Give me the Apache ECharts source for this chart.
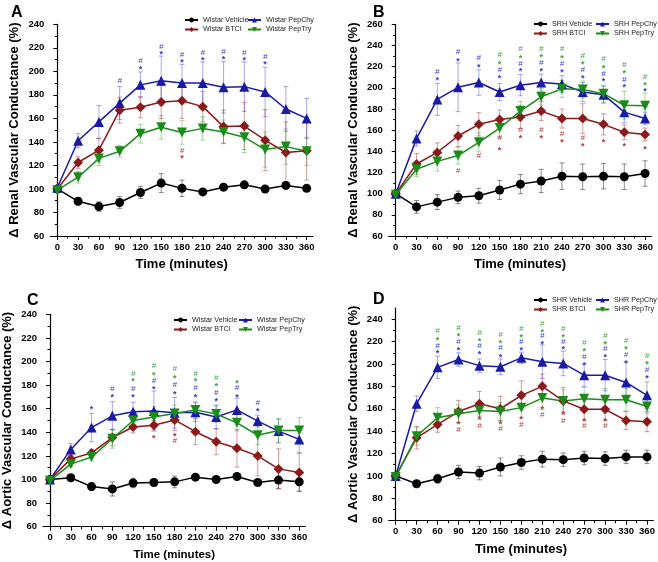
<!DOCTYPE html>
<html>
<head>
<meta charset="utf-8">
<script src="https://cdn.jsdelivr.net/npm/echarts@6/dist/echarts.min.js"></script>
<style>
  html, body { margin: 0; padding: 0; background: #fff; }
  #chart { width: 658px; height: 562px; }
</style>
</head>
<body>
<div id="chart"></div>
<script>
// time points (minutes)
const times = [0, 30, 60, 90, 120, 150, 180, 210, 240, 270, 300, 330, 360];
const minorTimes = [15, 45, 75, 105, 135, 165, 195, 225, 255, 285, 315, 345];

// A - renal, Wistar
const vehA = [100, 89.5, 85, 88.5, 97, 105, 100.5, 97.5, 101.5, 103.5, 100, 103, 100.5];
const vehAErr = [2, 3, 4, 5, 5, 8, 7, 2, 3, 2, 2, 3, 2];
const btciA = [100, 122.5, 133, 167, 169.5, 174, 175, 170, 153, 153.5, 141.5, 131, 132.5];
const btciAErr = [2, 5, 10, 11, 9, 14, 15, 13, 14, 20, 26, 26, 25];
const chyA = [101, 141, 157, 173, 188.5, 192, 190, 190, 186.5, 187, 182.5, 168, 160];
const chyAErr = [2, 6, 14, 14, 11, 21, 16, 18, 22, 21, 21, 19, 17];
const tryA = [99, 110, 126, 132, 147, 152.5, 148, 151.5, 148.5, 144, 133.5, 136, 132];
const tryAErr = [2, 5, 6, 5, 8, 10, 10, 10, 10, 13, 15, 15, 12];

// B - renal, SHR
const vehB = [100, 87.5, 92, 96.5, 98, 103.5, 109, 112, 116.5, 116, 116.5, 116, 119];
const vehBErr = [2, 6, 7, 6, 7, 9, 9, 11, 12.5, 12, 12, 12, 12];
const btciB = [100, 128, 139, 154.5, 165.5, 170, 172.5, 178, 171, 171, 165.5, 158, 156];
const btciBErr = [2, 10, 9, 10, 11, 9, 11, 9, 9, 14, 10, 7, 6];
const chyB = [100, 152, 189, 200.5, 205, 196, 202.5, 205, 203.5, 196, 193.5, 177, 171];
const chyBErr = [2, 7, 15, 23, 12, 8, 10, 8, 8, 9, 8, 10, 6];
const tryB = [99, 123, 130.5, 136, 148.5, 162, 178, 191.5, 199, 198.5, 194.5, 183.5, 183];
const tryBErr = [2, 7, 9, 8, 9, 9, 9, 8, 8, 8, 8, 13, 12];

// C - aortic, Wistar
const vehC = [100, 101.5, 94, 92, 97, 97.5, 98, 102, 100, 102.5, 97.5, 99.5, 98];
const vehCErr = [2, 2, 3, 6, 4, 3, 5, 2, 2, 2, 2, 7, 8];
const btciC = [100, 117.5, 122.5, 135.5, 144.5, 146, 150.5, 140.5, 132, 126.5, 120, 109, 106];
const btciCErr = [2, 3, 3, 7, 5, 4, 9, 11, 11, 16, 17, 17, 16];
const chyC = [100, 125.5, 144, 154, 157.5, 158, 156.5, 157, 153, 159, 149.5, 141, 134];
const chyCErr = [2, 5, 12, 12, 8, 17, 13, 8, 10, 10, 5, 10, 11];
const tryC = [99, 113, 119, 134.5, 150, 153, 156, 159, 155.5, 148, 137.5, 141.5, 141.5];
const tryCErr = [2, 2, 3, 8, 8, 9, 7, 7, 7, 7, 8, 10, 11];

// D - aortic, SHR
const vehD = [100, 93, 97.5, 103.5, 102.5, 108, 112, 115, 114.5, 116, 115.5, 117, 117];
const vehDErr = [2, 2, 4, 6, 6, 8, 6, 7, 6, 6, 6, 6, 6];
const btciD = [100, 134, 146, 157.5, 164.5, 160, 172, 180, 167, 159.5, 159.5, 149.5, 148.5];
const btciDErr = [2, 10, 7, 10, 11, 11, 13, 11, 12, 10, 10, 8, 9];
const chyD = [100, 164.5, 197, 204, 198.5, 197.5, 205.5, 202, 200.5, 190, 190, 183.5, 172];
const chyDErr = [2, 7, 10, 6, 6, 7, 5, 15, 11, 10, 14, 18, 12];
const tryD = [99, 135.5, 152, 155.5, 158.5, 157.5, 161, 169.5, 167, 169, 168, 168, 162];
const tryDErr = [2, 8, 9, 8, 8, 8, 9, 10, 10, 10, 10, 10, 6];

// significance marks: [time, level, mark]
const marksABlue = [[90, 192, '#'], [120, 209, '#'], [120, 203, '*'], [150, 221, '#'], [150, 216, '*'],
  [180, 214.5, '#'], [180, 209, '*'], [210, 216, '#'], [210, 210.5, '*'], [240, 217, '#'], [240, 212, '*'],
  [270, 216, '#'], [270, 211, '*'], [300, 212.5, '#'], [300, 207.5, '*']];
const marksARed = [[180, 132.5, '#'], [180, 127.5, '*']];
const marksAGreen = [];

const marksBBlue = [[60, 215, '#'], [60, 209, '*'], [90, 234, '#'], [90, 227, '*'], [120, 228, '#'], [120, 221.5, '*'],
  [150, 217, '#'], [150, 210.5, '*'], [180, 223, '#'], [180, 217, '*'], [210, 223.5, '#'], [210, 217, '*'],
  [240, 223, '#'], [240, 216.5, '*'], [270, 217, '#'], [270, 210.5, '*'], [300, 213.5, '#'], [300, 207.5, '*'],
  [330, 208, '#'], [330, 202.5, '*'], [360, 198.5, '*']];
const marksBGreen = [[150, 231, '#'], [150, 224, '*'], [180, 236.5, '#'], [180, 230, '*'], [210, 237, '#'], [210, 230.5, '*'],
  [240, 236.5, '#'], [240, 230, '*'], [270, 230.5, '#'], [270, 223.5, '*'], [300, 227, '#'], [300, 220.5, '*'],
  [330, 222, '#'], [330, 215.5, '*'], [360, 210.5, '#'], [360, 204.5, '*']];
const marksBRed = [[90, 121.5, '#'], [120, 135.5, '#'], [150, 153, '#'], [150, 143, '*'], [180, 160.5, '#'], [180, 154, '*'],
  [210, 160, '#'], [210, 154, '*'], [240, 157, '#'], [240, 150, '*'], [270, 153, '#'], [270, 146, '*'],
  [300, 150.5, '*'], [330, 146, '*'], [360, 144, '*']];

const marksCBlue = [[60, 161, '*'], [90, 176.5, '#'], [90, 171, '*'], [120, 176.5, '#'], [120, 171, '*'],
  [150, 183.5, '#'], [150, 178, '*'], [180, 180, '#'], [180, 174, '*'], [210, 177.5, '#'], [210, 171, '*'],
  [240, 173.5, '#'], [240, 167.5, '*'], [270, 178, '#'], [270, 171.5, '*'], [300, 165, '#'], [300, 159, '*']];
const marksCGreen = [[120, 190, '#'], [120, 184.5, '*'], [150, 196, '#'], [150, 190, '*'], [180, 193.5, '#'], [180, 187, '*'],
  [210, 190, '#'], [210, 184.5, '*'], [240, 186.5, '#'], [240, 180.5, '*'], [270, 183, '*']];
const marksCRed = [[150, 136.5, '*'], [180, 138.5, '*'], [180, 133, '#']];

const marksDBlue = [[60, 216.5, '#'], [60, 211, '*'], [90, 219.5, '#'], [90, 213.5, '*'], [120, 216, '#'], [120, 210, '*'],
  [150, 214.5, '#'], [150, 207.5, '*'], [180, 219.5, '#'], [180, 213.5, '*'], [210, 225, '#'], [210, 219, '*'],
  [240, 220, '#'], [240, 214.5, '*'], [270, 206.5, '#'], [270, 200.5, '*'], [300, 213.5, '#'], [300, 207.5, '*'],
  [330, 208.5, '#'], [330, 202, '*'], [360, 195, '#'], [360, 188.5, '*']];
const marksDGreen = [[60, 229.5, '#'], [60, 222.5, '*'], [90, 232.5, '#'], [90, 226.5, '*'], [120, 228, '#'], [120, 222, '*'],
  [150, 226.5, '#'], [150, 220.5, '*'], [180, 231.5, '#'], [180, 225.5, '*'], [210, 235.5, '#'], [210, 230, '*'],
  [240, 231.5, '#'], [240, 225.5, '*'], [270, 218.5, '#'], [270, 212.5, '*'], [300, 225.5, '#'], [300, 219.5, '*'],
  [330, 221, '#'], [330, 215, '*'], [360, 207.5, '#'], [360, 201.5, '*']];
const marksDRed = [[90, 147.5, '*'], [90, 141.5, '#'], [120, 152.5, '*'], [120, 145, '#'], [150, 148, '*'], [150, 142, '#'],
  [180, 152.5, '*'], [180, 146, '#'], [210, 161.5, '*'], [210, 155, '#'], [240, 156.5, '*'], [240, 149.5, '#'],
  [270, 150.5, '*'], [270, 144.5, '#'], [300, 150.5, '*'], [300, 144.5, '#']];

const FONT = '"Liberation Sans", Arial, sans-serif';
const groups = [
  { key: 'veh', label: 'Vehicle', color: '#000000', err: 'rgba(0,0,0,0.45)', symbol: 'circle', size: 9, rotate: 0 },
  { key: 'btci', label: 'BTCI', color: '#8c1a1a', err: 'rgba(160,40,40,0.45)', symbol: 'diamond', size: 10, rotate: 0 },
  { key: 'chy', label: 'PepChy', color: '#1a1aa8', err: 'rgba(40,40,200,0.4)', symbol: 'triangle', size: 10, rotate: 0 },
  { key: 'try', label: 'PepTry', color: '#1a8c1a', err: 'rgba(40,150,40,0.4)', symbol: 'triangle', size: 10, rotate: 180 }
];
const markColors = { blue: '#3a3ac8', red: '#a83a3a', green: '#3aa83a' };

const panels = [
  {
    letter: 'A', strain: 'Wistar', yName: 'Δ Renal Vascular Conductance (%)', yMax: 240,
    grid: { left: 50.4, top: 24.3, width: 262.5, height: 211.7 }, letterPos: [6, 0], legendPos: [184, 247, 16.5],
    data: { veh: [vehA, vehAErr], btci: [btciA, btciAErr], chy: [chyA, chyAErr], try: [tryA, tryAErr] },
    marks: { blue: marksABlue, red: marksARed, green: marksAGreen }, nameSize: 13
  },
  {
    letter: 'B', strain: 'SRH', yName: 'Δ Renal Vascular Conductance (%)', yMax: 260,
    grid: { left: 388.8, top: 24.3, width: 262.5, height: 211.7 }, letterPos: [368, 0], legendPos: [533, 595, 20.5],
    data: { veh: [vehB, vehBErr], btci: [btciB, btciBErr], chy: [chyB, chyBErr], try: [tryB, tryBErr] },
    marks: { blue: marksBBlue, red: marksBRed, green: marksBGreen }, nameSize: 13
  },
  {
    letter: 'C', strain: 'Wistar', yName: 'Δ Aortic Vascular Conductance (%)', yMax: 240,
    grid: { left: 43.1, top: 314.3, width: 262.4, height: 212.4 }, letterPos: [22, 288], legendPos: [173, 238, 316.5],
    data: { veh: [vehC, vehCErr], btci: [btciC, btciCErr], chy: [chyC, chyCErr], try: [tryC, tryCErr] },
    marks: { blue: marksCBlue, red: marksCRed, green: marksCGreen }, nameSize: 11.5
  },
  {
    letter: 'D', strain: 'SHR', yName: 'Δ Aortic Vascular Conductance (%)', yMax: 250,
    grid: { left: 388.7, top: 308, width: 264.6, height: 212.7 }, letterPos: [368, 287], legendPos: [533, 595, 296.5],
    data: { veh: [vehD, vehDErr], btci: [btciD, btciDErr], chy: [chyD, chyDErr], try: [tryD, tryDErr] },
    marks: { blue: marksDBlue, red: marksDRed, green: marksDGreen }, nameSize: 13
  }
];

const yTicks = [60, 80, 100, 120, 140, 160, 180, 200, 220, 240, 260];
const yMinorTicks = [70, 90, 110, 130, 150, 170, 190, 210, 230, 250];

function errorBars(i, g, vals, errs) {
  return {
    type: 'custom', xAxisIndex: i, yAxisIndex: i, z: 1, silent: true,
    itemStyle: { color: g.err },
    data: times.map((t, k) => [t, vals[k], errs[k]]),
    renderItem: (params, api) => {
      const t = api.value(0), v = api.value(1), e = api.value(2);
      const hi = api.coord([t, v + e]), lo = api.coord([t, v - e]);
      const c = 2.5, st = { stroke: api.visual('color'), lineWidth: 1 };
      return {
        type: 'group', children: [
          { type: 'line', shape: { x1: hi[0], y1: hi[1], x2: lo[0], y2: lo[1] }, style: st },
          { type: 'line', shape: { x1: hi[0] - c, y1: hi[1], x2: hi[0] + c, y2: hi[1] }, style: st },
          { type: 'line', shape: { x1: lo[0] - c, y1: lo[1], x2: lo[0] + c, y2: lo[1] }, style: st }
        ]
      };
    }
  };
}

function markSeries(i, list, color) {
  return {
    type: 'custom', xAxisIndex: i, yAxisIndex: i, z: 5, silent: true,
    data: list.map(m => [m[0], m[1]]),
    renderItem: (params, api) => {
      const p = api.coord([api.value(0), api.value(1)]);
      const mk = list[params.dataIndex][2];
      return {
        type: 'text', x: p[0], y: mk === '*' ? p[1] + 2 : p[1],
        style: {
          text: mk, fill: color, align: 'center', verticalAlign: 'middle',
          font: (mk === '#' ? 'italic 8px ' : 'bold 9px ') + FONT
        }
      };
    }
  };
}

const option = {
  animation: false,
  backgroundColor: '#fff',
  title: [], grid: [], xAxis: [], yAxis: [], legend: [], series: []
};

panels.forEach((p, i) => {
  option.title.push({
    text: p.letter, left: p.letterPos[0], top: p.letterPos[1],
    textStyle: { fontFamily: FONT, fontWeight: 'bold', fontSize: 16, color: '#000' }
  });
  option.grid.push(p.grid);
  option.xAxis.push({
    type: 'value', gridIndex: i, min: -10, max: 369, position: 'bottom',
    name: 'Time (minutes)', nameLocation: 'middle', nameGap: 22,
    nameTextStyle: { fontFamily: FONT, fontWeight: 'bold', fontSize: p.nameSize, color: '#000' },
    axisLine: { lineStyle: { color: '#000', width: 1.2 } },
    axisTick: { customValues: times, length: 4, lineStyle: { color: '#000' } },
    axisLabel: { customValues: times, fontFamily: FONT, fontWeight: 'bold', fontSize: 9.5, color: '#000', margin: 6 },
    splitLine: { show: false }
  });
  const yt = yTicks.filter(v => v <= p.yMax);
  option.yAxis.push({
    type: 'value', gridIndex: i, min: 60, max: p.yMax, position: 'left',
    name: p.yName, nameLocation: 'middle', nameGap: 29, nameRotate: 90,
    nameTextStyle: { fontFamily: FONT, fontWeight: 'bold', fontSize: 13, color: '#000' },
    axisLine: { show: true, lineStyle: { color: '#000', width: 1.2 } },
    axisTick: { customValues: yt, length: 4, lineStyle: { color: '#000' } },
    axisLabel: { customValues: yt, fontFamily: FONT, fontWeight: 'bold', fontSize: 9.5, color: '#000', margin: 6 },
    splitLine: { show: false }
  });
  const cols = [[groups[0], groups[1]], [groups[2], groups[3]]];
  cols.forEach((col, c) => {
    option.legend.push({
      orient: 'vertical', left: p.legendPos[c], top: p.legendPos[2], padding: 0,
      itemWidth: 13, itemHeight: 6, itemGap: 2.5,
      textStyle: { fontFamily: FONT, fontSize: 7.2, color: '#222' },
      data: col.map(g => p.strain + ' ' + g.label)
    });
  });
  groups.forEach(g => {
    const [vals, errs] = p.data[g.key];
    option.series.push(errorBars(i, g, vals, errs));
  });
  groups.forEach(g => {
    const [vals] = p.data[g.key];
    option.series.push({
      type: 'line', name: p.strain + ' ' + g.label, xAxisIndex: i, yAxisIndex: i, z: 3,
      data: times.map((t, k) => [t, vals[k]]),
      symbol: g.symbol, symbolSize: g.size, symbolRotate: g.rotate, showAllSymbol: true,
      lineStyle: { color: g.color, width: 1.5 },
      itemStyle: { color: g.color, borderWidth: 0 }
    });
  });
  Object.keys(p.marks).forEach(k => {
    if (p.marks[k].length) option.series.push(markSeries(i, p.marks[k], markColors[k]));
  });
});

// extra axes carrying the minor ticks only
panels.forEach((p, i) => {
  option.xAxis.push({
    type: 'value', gridIndex: i, min: -10, max: 369, position: 'bottom',
    axisLine: { show: false }, axisLabel: { show: false }, splitLine: { show: false },
    axisTick: { customValues: minorTimes, length: 2.5, lineStyle: { color: '#000' } }
  });
  option.yAxis.push({
    type: 'value', gridIndex: i, min: 60, max: p.yMax, position: 'left',
    axisLine: { show: false }, axisLabel: { show: false }, splitLine: { show: false },
    axisTick: { customValues: yMinorTicks.filter(v => v < p.yMax), length: 2.5, lineStyle: { color: '#000' } }
  });
});

const chart = echarts.init(document.getElementById('chart'), null, { renderer: 'canvas' });
chart.setOption(option);
</script>
</body>
</html>
